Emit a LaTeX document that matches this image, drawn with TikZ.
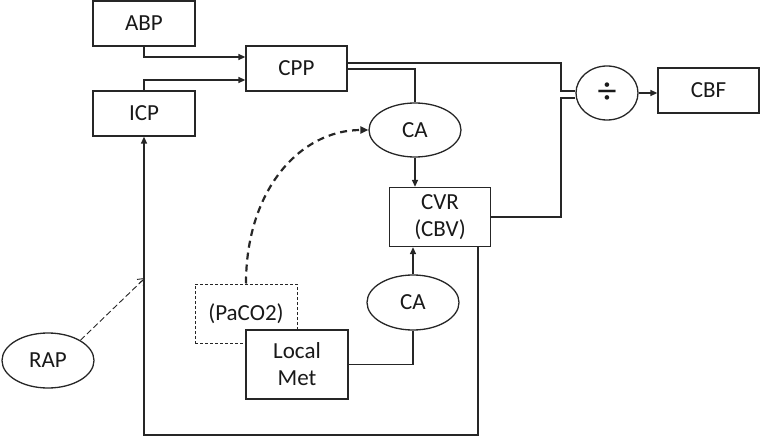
\documentclass[tikz,border=0pt]{standalone}
\usepackage{fontspec}
\setmainfont{Carlito}
\usetikzlibrary{arrows.meta,shapes.geometric,calc}
\begin{document}
\begin{tikzpicture}[x=1pt,y=-1pt,
  every node/.style={font=\fontsize{23}{27}\selectfont, text=black!90},
  box/.style={draw=black!85, line width=1.3pt, rectangle, inner sep=0pt, minimum width=#1, align=center},
  oval/.style={draw=black!85, line width=1.3pt, ellipse, inner sep=0pt, minimum width=92pt, minimum height=55pt},
  conn/.style={draw=black!85, line width=1.3pt},
  tip/.style={-{Triangle[length=7pt,width=6pt]}},
]
\useasboundingbox (0,0) rectangle (762,438);
% nodes
\node[box=102pt, minimum height=45pt] (ABP) at (144,23.5) {ABP};
\node[box=101pt, minimum height=45pt] (CPP) at (296.5,68.5) {CPP};
\node[box=102pt, minimum height=45pt] (ICP) at (144,113.5) {ICP};
\node[oval, minimum height=54pt] (CA1) at (415,130) {CA};
\node[box=101pt, minimum height=59pt] (CVR) at (440,217) {CVR\\(CBV)};
\node[oval, minimum width=62pt, minimum height=54pt, font=\fontsize{38}{38}\selectfont] (div) at (607,93) {÷};
\node[box=101pt, minimum height=45pt] (CBF) at (708.5,90.5) {CBF};
\node[oval] (CA2) at (413,302.5) {CA};
\node[box=102pt, minimum height=59pt, dash pattern=on 3pt off 2pt, line width=1pt] (PaCO2) at (246,313.5) {(PaCO2)};
\node[box=102pt, minimum height=69pt, fill=white] (LM) at (297,364.5) {Local\\Met};
\node[oval] (RAP) at (48,360.5) {RAP};
\coordinate (rapend) at (145,278);
% connectors
\draw[conn, tip] (ABP.south) |- (CPP.west |- {(0,57)});
\draw[conn, tip] (ICP.north) |- (CPP.west |- {(0,80)});
\draw[conn] (CPP.east |- {(0,63)}) -- (561,63) -- (561,91) -- (div.west |- {(0,91)});
\draw[conn] (CPP.east |- {(0,69)}) -| (CA1.north);
\draw[conn, tip] (CA1.south) -- (CA1.south |- CVR.north);
\draw[conn] (CVR.east) -- (561,217) -- (561,98) -- (div.west |- {(0,98)});
\draw[conn, tip] (div.east) -- (CBF.west |- div.east);
\draw[conn, tip] (CVR.south -| {(478,0)}) -- (478,435) -| (ICP.south);
\draw[conn, tip] (CA2.north) -- (CA2.north |- CVR.south);
\draw[conn] (LM.east) -| (CA2.south);
\draw[conn, line width=2.2pt, dash pattern=on 7pt off 5pt, -{Triangle[length=8pt,width=7pt]}]
  (PaCO2.north) .. controls (246,190) and (300,130) .. (CA1.west);
\draw[conn, line width=0.9pt, dash pattern=on 6pt off 3pt] (RAP.32) -- (rapend);
\draw[conn, line width=0.9pt, -{Straight Barb[length=6pt,width=9pt]}] ($(rapend)!8pt!(RAP.32)$) -- (rapend);
\end{tikzpicture}
\end{document}
